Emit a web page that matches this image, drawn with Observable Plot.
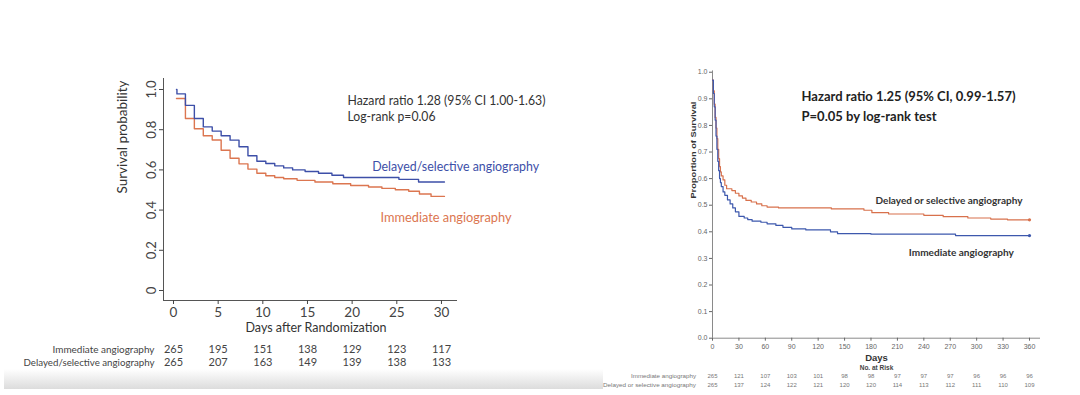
<!DOCTYPE html>
<html><head><meta charset="utf-8">
<script src="https://cdn.jsdelivr.net/npm/d3@7"></script>
<script src="https://cdn.jsdelivr.net/npm/@observablehq/plot@0.6"></script>
<style>
html,body{margin:0;padding:0;background:#fff;}
#wrap{position:relative;width:1080px;height:395px;overflow:hidden;background:#fff;}
#band{position:absolute;left:4px;top:369px;width:599px;height:20px;background:linear-gradient(#ffffff,#dcdcdc);}
#left{position:absolute;left:0;top:0;}
#right{position:absolute;left:560px;top:0;}
</style></head>
<body><div id="wrap"><div id="band"></div><div id="left"></div><div id="right"></div></div>
<script>
// ---------- LEFT PANEL DATA ----------
const leftDays = [0, 5, 10, 15, 20, 25, 30];
const leftYTicks = [0, 0.2, 0.4, 0.6, 0.8, 1.0];
const leftRiskImmediate = [265, 195, 151, 138, 129, 123, 117];
const leftRiskDelayed = [265, 207, 163, 149, 139, 138, 133];
const leftDelayedT = [0, 0.05, 1, 2, 3, 4, 5, 6, 7, 8, 9, 10, 11, 12, 13, 14.4, 15.9, 17.4, 18.7, 24.9, 27.1, 30];
const leftDelayedS = [1.0, 0.978, 0.921, 0.856, 0.814, 0.793, 0.770, 0.748, 0.715, 0.670, 0.643, 0.632, 0.620, 0.610, 0.600, 0.592, 0.583, 0.573, 0.562, 0.553, 0.540, 0.540];
const leftImmediateT = [0, 1, 2, 3, 4, 5, 6, 7, 8, 9, 10, 11, 12, 13.5, 15.5, 17.5, 19.5, 21.5, 23, 24.5, 26, 27.2, 28.5, 30];
const leftImmediateS = [0.955, 0.856, 0.805, 0.770, 0.749, 0.698, 0.658, 0.630, 0.604, 0.583, 0.571, 0.562, 0.556, 0.548, 0.540, 0.531, 0.522, 0.515, 0.508, 0.501, 0.494, 0.480, 0.468, 0.468];
const leftStats = ["Hazard ratio 1.28 (95% CI 1.00-1.63)", "Log-rank p=0.06"];

// ---------- RIGHT PANEL DATA ----------
const rightDays = [0, 30, 60, 90, 120, 150, 180, 210, 240, 270, 300, 330, 360];
const rightYTicks = [0, 0.1, 0.2, 0.3, 0.4, 0.5, 0.6, 0.7, 0.8, 0.9, 1.0];
const rightRiskImmediate = [265, 121, 107, 103, 101, 98, 98, 97, 97, 97, 96, 96, 96];
const rightRiskDelayed = [265, 137, 124, 122, 121, 120, 120, 114, 113, 112, 111, 110, 109];
const rightDelayedT = [0, 1, 2, 3, 4, 5, 6, 7, 8, 9, 10, 12, 14, 16, 22, 26, 30, 34, 38, 44, 50, 56, 62, 75, 135, 172, 181, 200, 240, 262, 290, 316, 335, 360];
const rightDelayedS = [0.97, 0.93, 0.88, 0.83, 0.79, 0.75, 0.71, 0.675, 0.645, 0.625, 0.61, 0.595, 0.575, 0.562, 0.555, 0.545, 0.535, 0.527, 0.518, 0.512, 0.505, 0.498, 0.493, 0.490, 0.486, 0.481, 0.472, 0.467, 0.462, 0.457, 0.452, 0.448, 0.445, 0.445];
const rightImmediateT = [0, 1, 2, 3, 4, 5, 6, 7, 8, 9, 10, 12, 14, 17, 20, 23, 26, 30, 36, 40, 45, 55, 62, 72, 80, 90, 106, 134, 142, 180, 276, 360];
const rightImmediateS = [0.97, 0.92, 0.87, 0.82, 0.76, 0.71, 0.665, 0.63, 0.60, 0.585, 0.57, 0.55, 0.537, 0.52, 0.505, 0.49, 0.475, 0.458, 0.452, 0.446, 0.44, 0.436, 0.43, 0.424, 0.417, 0.411, 0.407, 0.400, 0.393, 0.391, 0.386, 0.386];
const rightStats = ["Hazard ratio 1.25 (95% CI, 0.99-1.57)", "P=0.05 by log-rank test"];

const zip = (T, S) => T.map((t, i) => ({t, s: S[i]}));

// fit selected texts to measured widths
function fit(svg, map) {
  svg.querySelectorAll("text").forEach(el => {
    const g = el.closest("g");
    const key = el.textContent + "|" + (g ? g.getAttribute("font-size") : "");
    const w = map[key];
    if (w) { el.setAttribute("textLength", w); el.setAttribute("lengthAdjust", "spacingAndGlyphs"); }
  });
}

// ---------- LEFT PLOT ----------
const LX = [-1.455, 31.46], LY = [-0.0498, 1.0547];
const LBLUE = "#3d4fa8", LORANGE = "#dc7650", LINK = "#3a3a3a";
const LF = "Lato, 'Open Sans', sans-serif";
const left = Plot.plot({
  width: 560, height: 395,
  marginLeft: 163, marginRight: 103, marginTop: 78, marginBottom: 95,
  x: {domain: LX}, y: {domain: LY},
  style: {background: "transparent", fontFamily: LF, color: LINK},
  marks: [
    Plot.ruleX([LX[0]], {y1: LY[0], y2: LY[1], stroke: "#555", strokeWidth: 1}),
    Plot.ruleY([LY[0]], {x1: LX[0], x2: LX[1], stroke: "#555", strokeWidth: 1}),
    Plot.axisX(leftDays, {tickSize: 4, tickPadding: 3, fontSize: 13.5, color: "#444", label: null, dx: -3}),
    Plot.axisY(leftYTicks, {tickSize: 4, tickRotate: -90, textAnchor: "middle", lineAnchor: "middle", tickPadding: 8,
      tickFormat: d => d === 0 ? "0" : d.toFixed(1), fontSize: 13, color: "#444", label: null}),
    Plot.line(zip(leftImmediateT, leftImmediateS), {x: "t", y: "s", curve: "step-after", stroke: LORANGE, strokeWidth: 1.4}),
    Plot.line(zip(leftDelayedT, leftDelayedS), {x: "t", y: "s", curve: "step-after", stroke: LBLUE, strokeWidth: 1.4}),
    Plot.text([leftStats[0]], {frameAnchor: "top-left", dx: 184, dy: 17, textAnchor: "start", fontSize: 13, fill: "#333"}),
    Plot.text([leftStats[1]], {frameAnchor: "top-left", dx: 184, dy: 33, textAnchor: "start", fontSize: 12.9, fill: "#333"}),
    Plot.text(["Delayed/selective angiography"], {frameAnchor: "top-left", dx: 208.7, dy: 83, textAnchor: "start", fontSize: 13, fill: LBLUE}),
    Plot.text(["Immediate angiography"], {frameAnchor: "top-left", dx: 217, dy: 134, textAnchor: "start", fontSize: 13, fill: LORANGE}),
    Plot.text(["Survival probability"], {frameAnchor: "left", rotate: -90, dx: -40.5, dy: 4, fontSize: 13, fill: "#333"}),
    Plot.text(["Days after Randomization"], {frameAnchor: "bottom", dx: 5.5, dy: 31.7, fontSize: 13.5, fill: "#333"}),
    Plot.text(leftRiskImmediate, {x: (d, i) => leftDays[i], frameAnchor: "bottom", dy: 52.7, fontSize: 11, fill: "#444", dx: -3}),
    Plot.text(leftRiskDelayed, {x: (d, i) => leftDays[i], frameAnchor: "bottom", dy: 65, fontSize: 11, fill: "#444", dx: -3}),
    Plot.text(["Immediate angiography"], {frameAnchor: "bottom-left", dx: -9, dy: 52.7, textAnchor: "end", fontSize: 10, fill: "#444"}),
    Plot.text(["Delayed/selective angiography"], {frameAnchor: "bottom-left", dx: -9, dy: 65, textAnchor: "end", fontSize: 10, fill: "#444"})
  ]
});
fit(left, {
  "Hazard ratio 1.28 (95% CI 1.00-1.63)|13": 198,
  "Log-rank p=0.06|12.9": 88,
  "Delayed/selective angiography|13": 167,
  "Immediate angiography|13": 131,
  "Survival probability|13": 113,
  "Days after Randomization|13.5": 141,
  "Immediate angiography|10": 102,
  "Delayed/selective angiography|10": 131
});
document.getElementById("left").appendChild(left);

// ---------- RIGHT PLOT ----------
const RX = [0, 372.5], RY = [0, 1.005];
const RBLUE = "#3d58ad", RORANGE = "#d8714c";
const RF = "'Liberation Sans', Arial, sans-serif";
const right = Plot.plot({
  width: 520, height: 395,
  marginLeft: 152, marginRight: 40, marginTop: 70.4, marginBottom: 57.3,
  x: {domain: RX}, y: {domain: RY},
  style: {background: "transparent", fontFamily: RF, color: "#555"},
  marks: [
    Plot.ruleX([RX[0]], {y1: RY[0], y2: RY[1], stroke: "#8a8a8a", strokeWidth: 1}),
    Plot.ruleY([RY[0]], {x1: RX[0], x2: RX[1], stroke: "#8a8a8a", strokeWidth: 1}),
    Plot.axisX(rightDays, {tickSize: 3, tickPadding: 3, fontSize: 7, color: "#666", label: null}),
    Plot.axisY(rightYTicks, {tickSize: 3, tickPadding: 2, fontSize: 7, color: "#666", tickFormat: ".1f", label: null}),
    Plot.line(zip(rightDelayedT, rightDelayedS), {x: "t", y: "s", curve: "step-after", stroke: RORANGE, strokeWidth: 1.2}),
    Plot.line(zip(rightImmediateT, rightImmediateS), {x: "t", y: "s", curve: "step-after", stroke: RBLUE, strokeWidth: 1.2}),
    Plot.dot([zip(rightDelayedT, rightDelayedS).at(-1)], {x: "t", y: "s", r: 1.6, fill: RORANGE}),
    Plot.dot([zip(rightImmediateT, rightImmediateS).at(-1)], {x: "t", y: "s", r: 1.6, fill: RBLUE}),
    Plot.text([rightStats[0]], {frameAnchor: "top-left", dx: 89, dy: 20.3, textAnchor: "start", fontSize: 13.5, fontWeight: "bold", fill: "#222", fontFamily: LF}),
    Plot.text([rightStats[1]], {frameAnchor: "top-left", dx: 89, dy: 40.3, textAnchor: "start", fontSize: 13.4, fontWeight: "bold", fill: "#222", fontFamily: LF}),
    Plot.text(["Delayed or selective angiography"], {frameAnchor: "top-left", dx: 163, dy: 126.3, textAnchor: "start", fontSize: 9, fontWeight: "bold", fill: "#333", fontFamily: LF}),
    Plot.text(["Immediate angiography"], {frameAnchor: "top-left", dx: 196.3, dy: 178.9, textAnchor: "start", fontSize: 9, fontWeight: "bold", fill: "#333", fontFamily: LF}),
    Plot.text(["Proportion of Survival"], {frameAnchor: "left", rotate: -90, dx: -19.3, dy: -6, fontSize: 8, fontWeight: "bold", fill: "#333"}),
    Plot.text(["Days"], {frameAnchor: "bottom", dx: 0, dy: 23, fontSize: 9.5, fontWeight: "bold", fill: "#333"}),
    Plot.text(["No. at Risk"], {frameAnchor: "bottom", dx: 0, dy: 32, fontSize: 6.5, fontWeight: "bold", fill: "#444"}),
    Plot.text(rightRiskImmediate, {x: (d, i) => rightDays[i], frameAnchor: "bottom", dy: 40, fontSize: 6, fill: "#777"}),
    Plot.text(rightRiskDelayed, {x: (d, i) => rightDays[i], frameAnchor: "bottom", dy: 48.3, fontSize: 6, fill: "#777"}),
    Plot.text(["Immediate angiography"], {frameAnchor: "bottom-left", dx: -16.5, dy: 40, textAnchor: "end", fontSize: 6, fill: "#777"}),
    Plot.text(["Delayed or selective angiography"], {frameAnchor: "bottom-left", dx: -16.5, dy: 48.3, textAnchor: "end", fontSize: 6, fill: "#777"})
  ]
});
fit(right, {
  "Hazard ratio 1.25 (95% CI, 0.99-1.57)|13.5": 214,
  "P=0.05 by log-rank test|13.4": 135,
  "Delayed or selective angiography|9": 147,
  "Immediate angiography|9": 105,
  "Proportion of Survival|8": 97,
  "Immediate angiography|6": 65,
  "Delayed or selective angiography|6": 93
});
document.getElementById("right").appendChild(right);
</script>
</body></html>
